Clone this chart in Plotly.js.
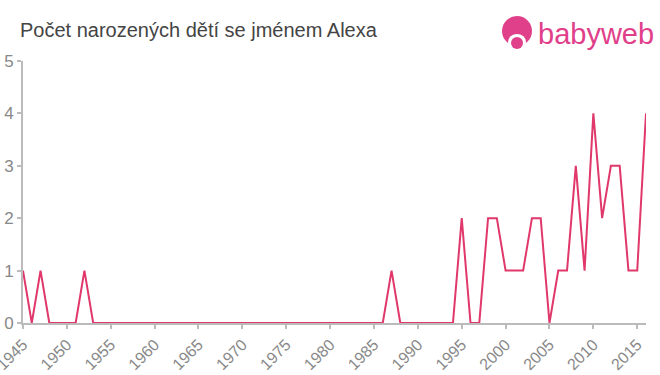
<!DOCTYPE html>
<html>
<head>
<meta charset="utf-8">
<script src="https://cdn.plot.ly/plotly-3.0.1.min.js"></script>
<style>html,body{margin:0;padding:0;background:#fff}#chart{width:660px;height:375px}</style>
</head>
<body>
<div id="chart"></div>
<script>
const years = [1945,1946,1947,1948,1949,1950,1951,1952,1953,1954,1955,1956,1957,1958,1959,1960,1961,1962,1963,1964,1965,1966,1967,1968,1969,1970,1971,1972,1973,1974,1975,1976,1977,1978,1979,1980,1981,1982,1983,1984,1985,1986,1987,1988,1989,1990,1991,1992,1993,1994,1995,1996,1997,1998,1999,2000,2001,2002,2003,2004,2005,2006,2007,2008,2009,2010,2011,2012,2013,2014,2015,2016];
const counts = [1,0,1,0,0,0,0,1,0,0,0,0,0,0,0,0,0,0,0,0,0,0,0,0,0,0,0,0,0,0,0,0,0,0,0,0,0,0,0,0,0,0,1,0,0,0,0,0,0,0,2,0,0,2,2,1,1,1,2,2,0,1,1,3,1,4,2,3,3,1,1,4];
const xTicks = [1945,1950,1955,1960,1965,1970,1975,1980,1985,1990,1995,2000,2005,2010,2015];
const titleText = "Počet narozených dětí se jménem Alexa";
const logoText = "babyweb";

const L = 23, R = 14, T = 61, B = 52;
const pw = 660 - L - R, ph = 375 - T - B;
const px = x => (x - L) / pw;
const py = y => (375 - B - y) / ph;
const pink = '#e0408a';

Plotly.newPlot('chart', [{
  x: years, y: counts, type: 'scatter', mode: 'lines',
  line: {color: '#e0386b', width: 2}, hoverinfo: 'x+y', cliponaxis: false
}], {
  width: 660, height: 375,
  margin: {l: L, r: R, t: T, b: B},
  paper_bgcolor: '#fff', plot_bgcolor: '#fff',
  showlegend: false,
  font: {family: 'Liberation Sans, Arial, sans-serif'},
  title: {text: titleText, x: 20/660, xanchor: 'left', y: 1 - 30/375, yanchor: 'middle',
          font: {size: 20, color: '#444'}},
  xaxis: {range: [1945, 2016], tickmode: 'array', tickvals: xTicks, ticktext: xTicks.map(String), tickangle: -45,
          ticklabeloverflow: 'allow',
          showgrid: false, zeroline: false, showline: true, linecolor: '#bbb', linewidth: 2,
          ticks: 'outside', ticklen: 4, tickcolor: '#bbb', tickwidth: 2,
          tickfont: {size: 16, color: '#888'}},
  yaxis: {range: [0, 5], dtick: 1, showgrid: false, zeroline: false, showline: true,
          ticklabeloverflow: 'allow',
          linecolor: '#bbb', linewidth: 2, ticks: 'outside', ticklen: 4, tickcolor: '#bbb', tickwidth: 2,
          tickfont: {size: 17, color: '#888'}},
  shapes: [
    {type: 'circle', xref: 'paper', yref: 'paper', x0: px(502), x1: px(532), y0: py(46), y1: py(16),
     fillcolor: pink, line: {width: 0}},
    {type: 'circle', xref: 'paper', yref: 'paper', x0: px(508), x1: px(526), y0: py(50), y1: py(34),
     fillcolor: '#fff', line: {width: 0}},
    {type: 'circle', xref: 'paper', yref: 'paper', x0: px(511), x1: px(523), y0: py(49), y1: py(37),
     fillcolor: pink, line: {width: 0}}
  ],
  annotations: [
    {text: logoText, xref: 'paper', yref: 'paper', x: px(536), y: py(34), xanchor: 'left', yanchor: 'middle',
     showarrow: false, font: {size: 29, color: pink, family: 'Liberation Sans, Arial, sans-serif'}}
  ]
}, {displayModeBar: false});
</script>
</body>
</html>
